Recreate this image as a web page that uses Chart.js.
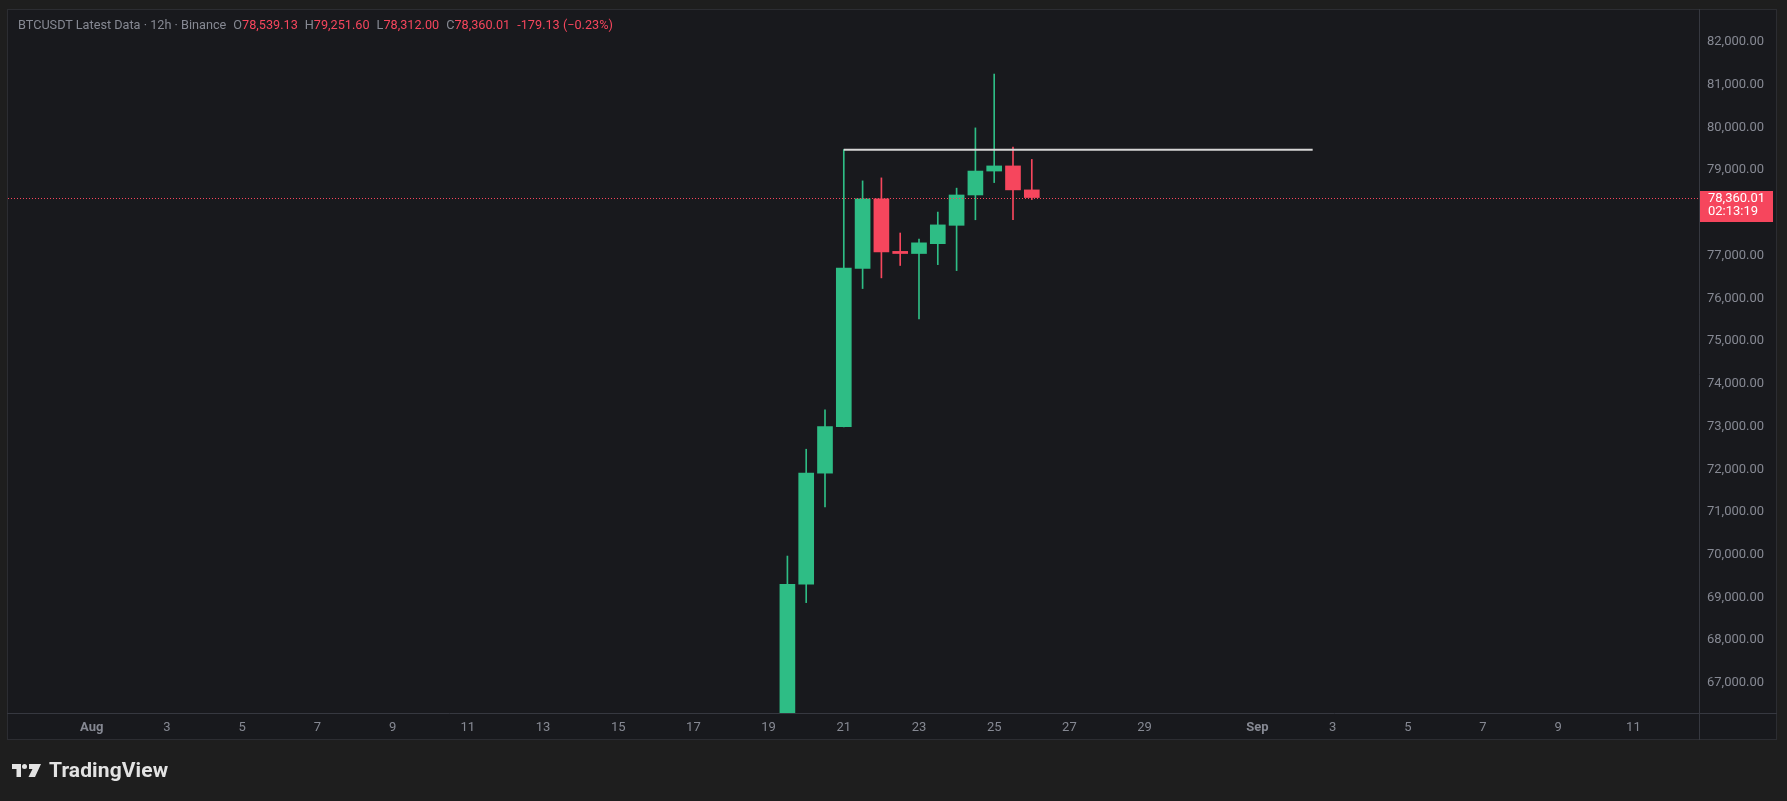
<!DOCTYPE html>
<html>
<head>
<meta charset="utf-8">
<title>BTCUSDT 12h</title>
<script src="https://cdn.jsdelivr.net/npm/chart.js@4.4.1/dist/chart.umd.min.js"></script>
<style>
  html, body { margin: 0; padding: 0; background: #1e1e1e; }
  #wrap { position: relative; width: 1787px; height: 801px; overflow: hidden; }
  #chart { position: absolute; left: 0; top: 0; }
  #legend { position: absolute; left: 18px; top: 17px; font: 12.7px Roboto, sans-serif; line-height: 16px; color: #868993; white-space: nowrap; }
  #legend .g { margin-left: 7px; }
  #legend .v { color: #f6465d; }
  #logo { position: absolute; left: 12px; top: 760px; height: 20px; display: flex; align-items: center; color: #e3e3e3; }
  #logo span { margin-left: 8px; font: bold 21px Roboto, sans-serif; letter-spacing: 0.1px; }
</style>
</head>
<body>
<div id="wrap">
  <canvas id="chart" width="1787" height="801"></canvas>
  <div id="legend">
    <span>BTCUSDT Latest Data · 12h · Binance</span><span class="g">O<span class="v" id="lo"></span></span><span class="g">H<span class="v" id="lh"></span></span><span class="g">L<span class="v" id="ll"></span></span><span class="g">C<span class="v" id="lc"></span></span><span class="g v" id="lchg"></span>
  </div>
  <div id="logo">
    <svg width="29" height="13" viewBox="0 0 29 13">
      <rect x="0" y="0" width="9" height="5" fill="#e3e3e3"/>
      <rect x="4.5" y="0" width="4.5" height="13" fill="#e3e3e3"/>
      <circle cx="12.5" cy="2.5" r="2.5" fill="#e3e3e3"/>
      <polygon points="17,0 29,0 23,13 16.5,13 20.5,5 17,5" fill="#e3e3e3"/>
    </svg>
    <span>TradingView</span>
  </div>
</div>
<script>
// 12h candles, time in days since Aug 1 00:00
const candleDays = [18.5, 19, 19.5, 20, 20.5, 21, 21.5, 22, 22.5, 23, 23.5, 24, 24.5, 25];
const openPrices = [65890, 69310, 71910, 73000, 76700, 78330, 77100, 77050, 77280, 77710, 78420, 78980, 79100, 78539.13];
const highPrices = [69970, 72470, 73390, 79480, 78750, 78820, 77530, 77390, 78020, 78580, 79990, 81250, 79540, 79251.60];
const lowPrices = [65650, 68880, 71120, 72990, 76230, 76480, 76770, 75520, 76790, 76650, 77840, 78710, 77840, 78312.00];
const closePrices = [69310, 71910, 73000, 76710, 78330, 77090, 77050, 77300, 77720, 78420, 78980, 79100, 78539.14, 78360.01];

const priceTicks = [67000, 68000, 69000, 70000, 71000, 72000, 73000, 74000, 75000, 76000, 77000, 78000, 79000, 80000, 81000, 82000];
const dayTicks = [0, 2, 4, 6, 8, 10, 12, 14, 16, 18, 20, 22, 24, 26, 28, 31, 33, 35, 37, 39, 41];
const dayLabels = ['Aug', '3', '5', '7', '9', '11', '13', '15', '17', '19', '21', '23', '25', '27', '29', 'Sep', '3', '5', '7', '9', '11'];
const monthLabels = ['Aug', 'Sep'];

// horizontal ray drawn from the Aug 21 high
const levelPrice = 79480;
const levelDays = [20, 32.47];
const countdown = '02:13:19';

const upColor = '#2ebd85';
const downColor = '#f6465d';
const textColor = '#868993';
const panelColor = '#18191d';
const lineColor = '#2c2d32';
const fontFamily = 'Roboto, sans-serif';

const fmt = v => v.toLocaleString('en-US', { minimumFractionDigits: 2, maximumFractionDigits: 2 });
const candleColors = closePrices.map((c, i) => c >= openPrices[i] ? upColor : downColor);

// legend values from the last candle
const last = closePrices.length - 1;
const change = closePrices[last] - closePrices[last - 1];
const changePct = change / closePrices[last - 1] * 100;
document.getElementById('lo').textContent = fmt(openPrices[last]);
document.getElementById('lh').textContent = fmt(highPrices[last]);
document.getElementById('ll').textContent = fmt(lowPrices[last]);
document.getElementById('lc').textContent = fmt(closePrices[last]);
document.getElementById('lchg').textContent =
    (change < 0 ? '-' : '+') + fmt(Math.abs(change)) + ' (' + (changePct < 0 ? '\u2212' : '+') + Math.abs(changePct).toFixed(2) + '%)';

const framePlugin = {
    id: 'frame',
    beforeDraw(chart) {
        const { ctx, chartArea } = chart;
        const right = chart.scales.y.right;
        const bottom = chart.scales.x.bottom;
        ctx.save();
        ctx.fillStyle = '#1e1e1e';
        ctx.fillRect(0, 0, chart.width, chart.height);
        ctx.fillStyle = panelColor;
        ctx.fillRect(chartArea.left - 1, chartArea.top - 1, right - chartArea.left + 1, bottom - chartArea.top + 1);
        ctx.strokeStyle = lineColor;
        ctx.lineWidth = 1;
        ctx.strokeRect(chartArea.left - 0.5, chartArea.top - 0.5, right - chartArea.left, bottom - chartArea.top);
        ctx.restore();
    },
    afterDatasetsDraw(chart) {
        // last price dotted line
        const { ctx, chartArea } = chart;
        const y = Math.round(chart.scales.y.getPixelForValue(closePrices[last])) + 0.5;
        ctx.save();
        ctx.strokeStyle = downColor;
        ctx.lineWidth = 1;
        ctx.setLineDash([1, 2]);
        ctx.beginPath();
        ctx.moveTo(chartArea.left, y);
        ctx.lineTo(chartArea.right, y);
        ctx.stroke();
        ctx.restore();
    },
    afterDraw(chart) {
        const { ctx, chartArea } = chart;
        const right = chart.scales.y.right;
        const bottom = chart.scales.x.bottom;
        ctx.save();
        ctx.strokeStyle = '#363840';
        ctx.lineWidth = 1;
        ctx.beginPath();
        ctx.moveTo(chartArea.right + 0.5, chartArea.top - 1);
        ctx.lineTo(chartArea.right + 0.5, bottom);
        ctx.moveTo(chartArea.left - 1, chartArea.bottom + 0.5);
        ctx.lineTo(right, chartArea.bottom + 0.5);
        ctx.stroke();

        // last price label on the axis
        const y = Math.round(chart.scales.y.getPixelForValue(closePrices[last]));
        const c = closePrices[last] >= openPrices[last] ? upColor : downColor;
        ctx.fillStyle = c;
        ctx.fillRect(chartArea.right + 1, y - 7, 73, 31);
        ctx.fillStyle = '#ffffff';
        ctx.font = '13px ' + fontFamily;
        ctx.textBaseline = 'middle';
        ctx.textAlign = 'left';
        ctx.fillText(fmt(closePrices[last]), chartArea.right + 9, y + 0.5);
        ctx.fillText(countdown, chartArea.right + 9, y + 14);
        ctx.restore();
    }
};

new Chart(document.getElementById('chart'), {
    type: 'bar',
    data: {
        datasets: [
            {
                label: 'Wicks',
                data: candleDays.map((d, i) => ({ x: d, y: [lowPrices[i], highPrices[i]] })),
                backgroundColor: candleColors,
                barThickness: 1,
                grouped: false,
                borderWidth: 0,
                order: 2
            },
            {
                label: 'Bodies',
                data: candleDays.map((d, i) => ({ x: d, y: [openPrices[i], closePrices[i]] })),
                backgroundColor: candleColors,
                barThickness: 15,
                grouped: false,
                borderWidth: 0,
                order: 1
            },
            {
                type: 'line',
                label: 'Level',
                data: levelDays.map(d => ({ x: d, y: levelPrice })),
                borderColor: '#d6d6d6',
                borderWidth: 2,
                pointRadius: 0,
                order: 0
            }
        ]
    },
    options: {
        responsive: false,
        animation: false,
        events: [],
        layout: { padding: { left: 8, top: 10, right: 10, bottom: 61 } },
        plugins: {
            legend: { display: false },
            tooltip: { enabled: false }
        },
        scales: {
            x: {
                type: 'linear',
                min: -2.229,
                max: 42.745,
                offset: false,
                grid: { display: false, drawTicks: false },
                border: { display: false },
                afterBuildTicks: scale => { scale.ticks = dayTicks.map(v => ({ value: v })); },
                afterFit: scale => {
                    scale.height = 27;
                    scale.paddingLeft = 0;
                    scale.paddingRight = 0;
                },
                ticks: {
                    autoSkip: false,
                    maxRotation: 0,
                    padding: 7,
                    color: textColor,
                    font: ctx => {
                        const lbl = ctx.tick ? dayLabels[dayTicks.indexOf(ctx.tick.value)] : '';
                        return { family: fontFamily, size: 13, weight: monthLabels.includes(lbl) ? 'bold' : 'normal' };
                    },
                    callback: v => dayLabels[dayTicks.indexOf(v)]
                }
            },
            y: {
                position: 'right',
                min: 66297,
                max: 82749,
                grid: { display: false, drawTicks: false },
                border: { display: false },
                afterBuildTicks: scale => { scale.ticks = priceTicks.map(v => ({ value: v })); },
                afterFit: scale => {
                    scale.width = 78;
                    scale.paddingTop = 0;
                    scale.paddingBottom = 0;
                },
                ticks: {
                    padding: 8,
                    color: textColor,
                    font: { family: fontFamily, size: 13 },
                    callback: v => fmt(v)
                }
            }
        }
    },
    plugins: [framePlugin]
});
</script>
</body>
</html>
